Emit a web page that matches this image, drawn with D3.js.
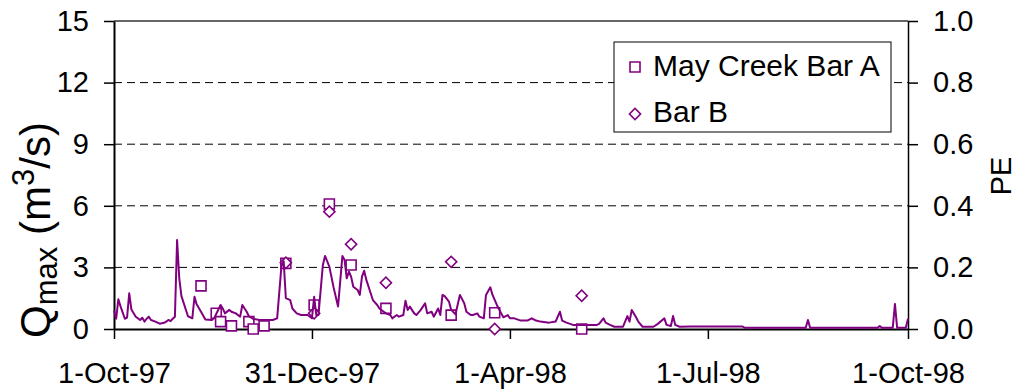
<!DOCTYPE html>
<html>
<head>
<meta charset="utf-8">
<script src="https://cdn.jsdelivr.net/npm/d3@7"></script>
<style>
  html, body { margin: 0; padding: 0; background: #fff; }
  svg text { font-family: "Liberation Sans", Arial, sans-serif; fill: #000; }
</style>
</head>
<body>
<svg id="chart" width="1018" height="391"></svg>
<script>
// Daily maximum discharge, May Creek, water year 1998 (date, Qmax m3/s)
const flow = [
  ["1997-10-01",0.9],["1997-10-02",0.5],["1997-10-03",1.45],["1997-10-04",1.1],["1997-10-06",0.5],
  ["1997-10-07",0.55],["1997-10-08",1.74],["1997-10-09",0.95],["1997-10-11",0.6],["1997-10-13",0.44],
  ["1997-10-14",0.55],["1997-10-15",0.36],["1997-10-16",0.5],["1997-10-17",0.6],["1997-10-18",0.44],
  ["1997-10-20",0.36],["1997-10-22",0.26],["1997-10-24",0.3],["1997-10-25",0.36],["1997-10-26",0.44],
  ["1997-10-27",0.38],["1997-10-28",0.5],["1997-10-29",0.6],["1997-10-30",4.33],["1997-10-31",2.47],
  ["1997-11-01",1.6],["1997-11-03",0.95],["1997-11-04",0.62],["1997-11-06",0.52],["1997-11-07",1.57],
  ["1997-11-08",1.2],["1997-11-10",0.84],["1997-11-12",0.46],["1997-11-15",0.44],["1997-11-16",0.52],
  ["1997-11-18",0.95],["1997-11-19",1.17],["1997-11-20",1.0],["1997-11-21",0.76],["1997-11-23",0.93],
  ["1997-11-24",0.84],["1997-11-26",0.76],["1997-11-28",0.6],["1997-11-29",1.17],["1997-12-01",0.84],
  ["1997-12-02",0.62],["1997-12-04",0.49],["1997-12-07",0.44],["1997-12-10",0.44],["1997-12-13",0.44],
  ["1997-12-15",0.52],["1997-12-17",3.1],["1997-12-18",3.3],["1997-12-19",1.5],["1997-12-21",1.41],
  ["1997-12-22",1.0],["1997-12-24",0.76],["1997-12-26",0.68],["1997-12-29",0.68],["1997-12-31",0.52],
  ["1998-01-01",1.57],["1998-01-02",0.68],["1998-01-03",0.68],["1998-01-05",3.1],["1998-01-06",3.56],
  ["1998-01-08",3.04],["1998-01-10",2.0],["1998-01-12",1.1],["1998-01-14",3.56],["1998-01-15",3.36],
  ["1998-01-16",2.47],["1998-01-17",2.79],["1998-01-18",2.55],["1998-01-19",2.06],["1998-01-21",1.9],
  ["1998-01-22",1.66],["1998-01-23",2.55],["1998-01-24",2.84],["1998-01-25",2.39],["1998-01-27",1.74],
  ["1998-01-28",1.41],["1998-01-30",1.17],["1998-01-31",1.0],["1998-02-02",0.84],["1998-02-03",0.76],
  ["1998-02-05",0.68],["1998-02-06",0.52],["1998-02-08",0.68],["1998-02-09",0.6],["1998-02-11",0.68],
  ["1998-02-12",1.38],["1998-02-13",0.93],["1998-02-14",1.09],["1998-02-16",0.76],["1998-02-17",0.68],
  ["1998-02-19",0.93],["1998-02-21",1.25],["1998-02-22",0.76],["1998-02-24",0.84],["1998-02-25",0.6],
  ["1998-02-27",1.0],["1998-02-28",0.68],["1998-03-01",1.66],["1998-03-02",1.6],["1998-03-04",1.33],
  ["1998-03-05",0.93],["1998-03-07",0.72],["1998-03-09",1.66],["1998-03-11",1.25],["1998-03-12",0.84],
  ["1998-03-14",0.68],["1998-03-15",0.68],["1998-03-17",0.76],["1998-03-18",0.6],["1998-03-20",0.52],
  ["1998-03-21",1.66],["1998-03-23",2.03],["1998-03-24",1.66],["1998-03-26",1.17],["1998-03-28",0.76],
  ["1998-03-29",0.57],["1998-03-31",0.68],["1998-04-01",0.52],["1998-04-03",0.52],["1998-04-06",0.41],
  ["1998-04-09",0.41],["1998-04-11",0.52],["1998-04-13",0.41],["1998-04-15",0.36],["1998-04-19",0.31],
  ["1998-04-22",0.36],["1998-04-24",0.84],["1998-04-25",0.41],["1998-04-27",0.31],["1998-04-30",0.2],
  ["1998-05-06",0.2],["1998-05-11",0.2],["1998-05-12",0.25],["1998-05-14",0.52],["1998-05-15",0.31],
  ["1998-05-17",0.2],["1998-05-19",0.11],["1998-05-23",0.11],["1998-05-25",0.63],["1998-05-26",0.36],
  ["1998-05-27",0.93],["1998-05-29",0.57],["1998-05-30",0.36],["1998-06-01",0.11],["1998-06-06",0.11],
  ["1998-06-08",0.25],["1998-06-11",0.52],["1998-06-12",0.2],["1998-06-14",0.15],["1998-06-15",0.63],
  ["1998-06-16",0.2],["1998-06-18",0.11],["1998-06-23",0.12],["1998-07-17",0.12],["1998-07-18",0.06],
  ["1998-08-15",0.06],["1998-08-16",0.44],["1998-08-17",0.06],["1998-09-17",0.06],["1998-09-18",0.15],
  ["1998-09-19",0.06],["1998-09-24",0.06],["1998-09-25",1.22],["1998-09-26",0.06],["1998-09-30",0.06],
  ["1998-10-01",0.5]
];

// Proportion eroded (PE) at the two bar sites
const barA = [
  ["1997-11-10",0.14],["1997-11-17",0.051],["1997-11-19",0.024],["1997-11-24",0.010],["1997-12-02",0.024],
  ["1997-12-04",0.0],["1997-12-09",0.010],["1997-12-19",0.213],["1998-01-01",0.078],["1998-01-08",0.406],
  ["1998-01-18",0.208],["1998-02-03",0.067],["1998-03-05",0.045],["1998-03-25",0.053],["1998-05-04",0.0]
];
const barB = [
  ["1997-12-19",0.215],["1998-01-01",0.051],["1998-01-08",0.381],["1998-01-18",0.275],["1998-02-03",0.150],
  ["1998-03-05",0.218],["1998-03-25",0.0],["1998-05-04",0.108]
];

const dateTicks = ["1997-10-01","1997-12-31","1998-04-01","1998-07-01","1998-10-01"];
const qTicks = [0, 3, 6, 9, 12, 15];
const peTicks = [0, 0.2, 0.4, 0.6, 0.8, 1.0];
const legendLabels = ["May Creek Bar A", "Bar B"];

const purple = "#800080";
const parse = d3.utcParse("%Y-%m-%d");
const fmtDate = d3.utcFormat("%-d-%b-%y");

const plotL = 114, plotR = 908, plotT = 21, plotB = 329;

const svg = d3.select("#chart");

const x = d3.scaleUtc()
  .domain([parse("1997-10-01"), parse("1998-10-01")])
  .range([plotL, plotR]);
const yQ = d3.scaleLinear().domain([0, 15]).range([plotB, plotT]);
const yPE = d3.scaleLinear().domain([0, 1]).range([plotB, plotT]);

// dashed horizontal gridlines
svg.append("g")
  .selectAll("line")
  .data(qTicks.filter(v => v > 0 && v < 15))
  .join("line")
  .attr("x1", plotL).attr("x2", plotR)
  .attr("y1", d => yQ(d)).attr("y2", d => yQ(d))
  .attr("stroke", "#000").attr("stroke-width", 1)
  .attr("stroke-dasharray", "8,5");

// top edge of the plot frame
svg.append("line").attr("x1", plotL).attr("x2", plotR).attr("y1", plotT).attr("y2", plotT)
  .attr("stroke", "#333").attr("stroke-width", 1.5);

const fontSize = 29;

// left axis
const gL = svg.append("g").attr("transform", `translate(${plotL},0)`)
  .call(d3.axisLeft(yQ).tickValues(qTicks).tickSize(10).tickPadding(15).tickSizeOuter(0));
// right axis
const gR = svg.append("g").attr("transform", `translate(${plotR},0)`)
  .call(d3.axisRight(yPE).tickValues(peTicks).tickFormat(d3.format(".1f")).tickSize(10).tickPadding(15).tickSizeOuter(0));
// bottom axis
const gB = svg.append("g").attr("transform", `translate(0,${plotB})`)
  .call(d3.axisBottom(x).tickValues(dateTicks.map(parse)).tickFormat(fmtDate).tickSize(10).tickPadding(10).tickSizeOuter(0));

[gL, gR, gB].forEach(g => {
  g.select(".domain").attr("stroke", "#000");
  g.selectAll(".tick line").attr("stroke", "#000").attr("stroke-width", 1.5);
  g.selectAll("text").attr("font-size", fontSize).attr("font-family", null);
});
gL.select(".domain").attr("stroke-width", 2);
gB.select(".domain").attr("stroke-width", 2);
gR.select(".domain").attr("stroke-width", 1.5);
gB.selectAll("text").attr("dy", null).attr("y", 54);

// PE markers (white filled, drawn below the discharge line)
const sq = d3.symbol().type(d3.symbolSquare).size(100);
const dm = d3.symbol().type(d3.symbolSquare).size(62);

svg.append("g").selectAll("path")
  .data(barA).join("path")
  .attr("d", sq)
  .attr("transform", d => `translate(${x(parse(d[0]))},${yPE(d[1])})`)
  .attr("fill", "#fff").attr("stroke", purple).attr("stroke-width", 1.6);

svg.append("g").selectAll("path")
  .data(barB).join("path")
  .attr("d", dm)
  .attr("transform", d => `translate(${x(parse(d[0]))},${yPE(d[1])}) rotate(45)`)
  .attr("fill", "#fff").attr("stroke", purple).attr("stroke-width", 1.6);

// discharge line
svg.append("path")
  .datum(flow)
  .attr("fill", "none")
  .attr("stroke", purple)
  .attr("stroke-width", 2)
  .attr("stroke-linejoin", "round")
  .attr("d", d3.line().x(d => x(parse(d[0]))).y(d => yQ(d[1])));

// axis titles
const tl = svg.append("text")
  .attr("transform", "translate(50,230) rotate(-90)")
  .attr("font-size", 42)
  .attr("text-anchor", "middle");
tl.append("tspan").text("Q");
tl.append("tspan").attr("font-size", 31).attr("dy", 7).text("max");
tl.append("tspan").attr("dy", -7).text(" (m");
tl.append("tspan").attr("font-size", 31).attr("dy", -16).text("3");
tl.append("tspan").attr("dy", 16).text("/s)");

svg.append("text")
  .attr("transform", "translate(1011,176) rotate(-90)")
  .attr("font-size", 29)
  .attr("text-anchor", "middle")
  .text("PE");

// legend
const lg = svg.append("g");
lg.append("rect").attr("x", 614).attr("y", 42).attr("width", 277).attr("height", 90)
  .attr("fill", "#fff").attr("stroke", "#000").attr("stroke-width", 1);
lg.append("path").attr("d", sq).attr("transform", "translate(635,67)")
  .attr("fill", "#fff").attr("stroke", purple).attr("stroke-width", 1.6);
lg.append("path").attr("d", dm).attr("transform", "translate(635,114) rotate(45)")
  .attr("fill", "#fff").attr("stroke", purple).attr("stroke-width", 1.6);
lg.selectAll("text.lab").data(legendLabels).join("text")
  .attr("class", "lab")
  .attr("x", 653).attr("y", (d, i) => i === 0 ? 76 : 122)
  .attr("font-size", 30)
  .text(d => d);
</script>
</body>
</html>
